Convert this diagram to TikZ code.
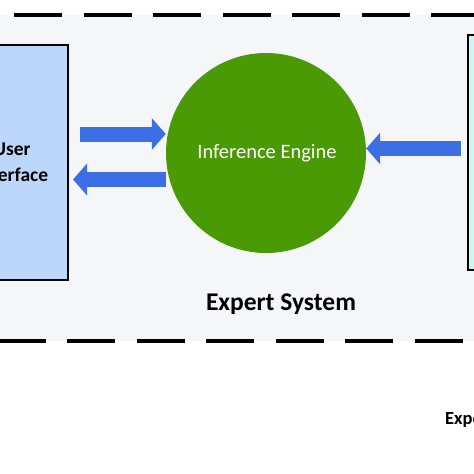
\documentclass[tikz,border=0pt]{standalone}
\usepackage{fontspec}
\setmainfont{Carlito}
\usetikzlibrary{arrows.meta}
\definecolor{bggray}{HTML}{F5F6F7}
\definecolor{uiblue}{HTML}{BDD7FA}
\definecolor{kbcyan}{HTML}{CDF7F7}
\definecolor{iegreen}{HTML}{4A9A06}
\definecolor{arrblue}{HTML}{3C6EE6}
\tikzset{
  boxstyle/.style={draw=black, line width=1.6pt, inner sep=0pt},
  blockarrow/.style={arrblue, line width=15pt,
    -{Triangle[length=14pt, width=31pt]}},
  dashline/.style={black, line width=3.8pt, dash pattern=on 48pt off 21.5pt},
}
\begin{document}
\begin{tikzpicture}[x=1pt, y=-1pt]
\useasboundingbox (0,0) rectangle (474,474);
\clip (0,0) rectangle (474,474);
\fill[white] (0,0) rectangle (474,474);
\fill[bggray] (0,15) rectangle (474,341);
\draw[dashline, dash phase=55.5pt] (0,15) -- (474,15);
\draw[dashline, dash phase=2.5pt] (0,341) -- (474,341);
% boxes
\node[boxstyle, fill=uiblue, minimum width=112pt, minimum height=235pt,
      align=center, font=\bfseries\fontsize{19.5}{26}\selectfont]
      (ui) at (12,162.5) {User\\Interface};
\node[boxstyle, fill=kbcyan, minimum width=60pt, minimum height=235pt]
      (kb) at (498,152.5) {};
% inference engine
\node[circle, fill=iegreen, minimum size=200pt, inner sep=0pt,
      text=white, font=\fontsize{20.5}{24}\selectfont]
      (ie) at (266,153) {};
\node[anchor=base, text=white, font=\fontsize{20.5}{24}\selectfont, inner sep=0pt]
      (ietext) at (267,158) {Inference Engine};
% arrows
\coordinate (a1s) at (80,134);
\coordinate (a2s) at (166,179.5);
\coordinate (a2e) at (73,179.5);
\coordinate (a3s) at (461,148.5);
\draw[blockarrow] (a1s) -- (a1s -| ie.west);
\draw[blockarrow] (a2s) -- (a2e);
\draw[blockarrow] (a3s) -- (a3s -| ie.east);
% labels
\node[anchor=base, inner sep=0pt, font=\bfseries\fontsize{25.5}{30}\selectfont]
      (es) at (281,310) {Expert System};
\node[anchor=base west, inner sep=0pt, font=\bfseries\fontsize{18.5}{22}\selectfont]
      (exp) at (445,424) {Expert};
\end{tikzpicture}
\end{document}
